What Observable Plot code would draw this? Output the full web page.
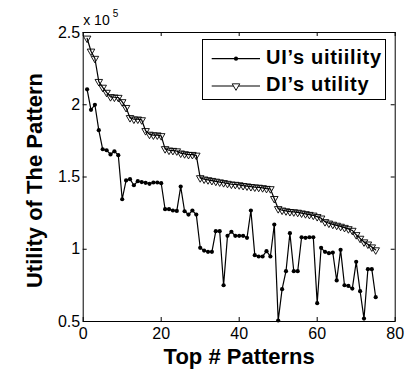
<!DOCTYPE html>
<html>
<head>
<meta charset="utf-8">
<script src="https://cdn.jsdelivr.net/npm/d3@7"></script>
<script src="https://cdn.jsdelivr.net/npm/@observablehq/plot@0.6"></script>
<style>
  html, body { margin: 0; padding: 0; background: #ffffff; }
  #chart { width: 414px; height: 371px; }
  svg { display: block; }
</style>
</head>
<body>
<div id="chart"></div>
<script>
// Values in units of 10^5
const uiUtility = [
  2.107, 1.965, 2.0, 1.824, 1.692, 1.685, 1.656, 1.678, 1.651, 1.346,
  1.476, 1.485, 1.443, 1.471, 1.465, 1.46, 1.453, 1.462, 1.462, 1.457,
  1.277, 1.277, 1.268, 1.265, 1.434, 1.263, 1.24, 1.268, 1.24, 1.01,
  0.991, 0.982, 0.982, 1.125, 1.125, 0.751, 1.093, 1.121, 1.093, 1.093,
  1.093, 1.079, 1.268, 0.959, 0.95, 0.95, 0.987, 0.95, 1.171, 0.507,
  0.724, 0.848, 1.111, 0.848, 0.848, 1.083, 1.079, 1.083, 1.083, 0.627,
  1.01, 0.982, 0.973, 0.977, 0.784, 0.996, 0.751, 0.746, 0.728, 0.913,
  0.71, 0.52, 0.862, 0.862, 0.668
];
const diUtility = [
  2.46, 2.37, 2.32, 2.16, 2.12, 2.085, 2.055, 2.052, 2.05, 2.02,
  1.98, 1.91, 1.90, 1.90, 1.895, 1.82, 1.795, 1.79, 1.79, 1.785,
  1.695, 1.685, 1.683, 1.68, 1.665, 1.66, 1.655, 1.655, 1.65, 1.494,
  1.485, 1.48, 1.475, 1.47, 1.465, 1.46, 1.455, 1.45, 1.448, 1.445,
  1.44, 1.437, 1.433, 1.43, 1.428, 1.425, 1.42, 1.418, 1.35, 1.28,
  1.27, 1.265, 1.26, 1.258, 1.255, 1.25, 1.245, 1.24, 1.235, 1.225,
  1.215, 1.19, 1.18, 1.172, 1.165, 1.158, 1.15, 1.141, 1.13, 1.10,
  1.075, 1.05, 1.035, 1.015, 0.995
];
const xTicks = [0, 20, 40, 60, 80];
const yTicks = [0.5, 1, 1.5, 2, 2.5];
const yTickLabels = ["0.5", "1", "1.5", "2", "2.5"];
const seriesNames = ["UI\u2019s uitiility", "DI\u2019s utility"];
const xTitle = "Top # Patterns";
const yTitle = "Utility of The Pattern";
const exponentBase = "x 10";
const exponentPower = "5";

const uiRows = uiUtility.map((v, i) => ({rank: i + 1, value: v}));
const diRows = diUtility.map((v, i) => ({rank: i + 1, value: v}));

const W = 414, H = 371;
const mL = 82.7, mR = 19.3, mT = 32, mB = 50;
const plotW = W - mL - mR, plotH = H - mT - mB;
const tickLen = 4;
const font = "'Liberation Sans', Arial, Helvetica, sans-serif";

const chart = Plot.plot({
  width: W,
  height: H,
  marginLeft: mL,
  marginRight: mR,
  marginTop: mT,
  marginBottom: mB,
  style: {fontFamily: font, background: "#ffffff", color: "#000000", overflow: "visible"},
  x: {domain: [0, 80]},
  y: {domain: [0.5, 2.5]},
  marks: [
    Plot.frame({stroke: "#000000", strokeWidth: 1}),
    // inward ticks on all four sides
    Plot.tickX(xTicks, {x: d => d, insetTop: plotH - tickLen, stroke: "#000000"}),
    Plot.tickX(xTicks, {x: d => d, insetBottom: plotH - tickLen, stroke: "#000000"}),
    Plot.tickY(yTicks, {y: d => d, insetRight: plotW - tickLen, stroke: "#000000"}),
    Plot.tickY(yTicks, {y: d => d, insetLeft: plotW - tickLen, stroke: "#000000"}),
    Plot.axisX({ticks: xTicks, tickSize: 0, tickPadding: 6, fontSize: 16, label: null, tickFormat: d => String(d)}),
    Plot.axisY({ticks: yTicks, tickSize: 0, tickPadding: 3, fontSize: 16, label: null,
      tickFormat: d => yTickLabels[yTicks.indexOf(d)]}),
    Plot.text([xTitle], {text: d => d, frameAnchor: "bottom", textAnchor: "middle", lineAnchor: "middle", dy: 35, fontSize: 22, fontWeight: "bold", fill: "#000000"}),
    Plot.text([yTitle], {text: d => d, frameAnchor: "left", textAnchor: "middle", lineAnchor: "middle", rotate: -90, dx: -48, dy: 3.5, fontSize: 22, fontWeight: "bold", fill: "#000000"}),
    Plot.text([exponentBase], {text: d => d, frameAnchor: "top-left", textAnchor: "start", lineAnchor: "middle", dx: 0, dy: -11.5, fontSize: 14, fill: "#000000"}),
    Plot.text([exponentPower], {text: d => d, frameAnchor: "top-left", textAnchor: "start", lineAnchor: "middle", dx: 29.5, dy: -19, fontSize: 10, fill: "#000000"}),
    Plot.line(diRows, {x: "rank", y: "value", stroke: "#000000", strokeWidth: 1.2}),
    Plot.dot(diRows, {x: "rank", y: "value", symbol: "triangle", rotate: 180, r: 2.8, stroke: "#000000", fill: "none", strokeWidth: 0.9}),
    Plot.line(uiRows, {x: "rank", y: "value", stroke: "#000000", strokeWidth: 1.2}),
    Plot.dot(uiRows, {x: "rank", y: "value", r: 2.1, fill: "#000000", stroke: "none"})
  ]
});

// Legend drawn inside the plot's svg
const svg = d3.select(chart);
const lg = svg.append("g").attr("font-family", font).attr("text-anchor", "start");
lg.append("rect").attr("x", 202.5).attr("y", 39.5).attr("width", 183).attr("height", 60)
  .attr("fill", "#ffffff").attr("stroke", "#000000").attr("stroke-width", 1);
const rows = [{name: seriesNames[0], cy: 58.7, base: 63.5, kind: "dot"},
              {name: seriesNames[1], cy: 86, base: 91, kind: "tri"}];
rows.forEach(r => {
  lg.append("line").attr("x1", 211.7).attr("x2", 260).attr("y1", r.cy).attr("y2", r.cy)
    .attr("stroke", "#000000").attr("stroke-width", 1.2);
  if (r.kind === "dot") {
    lg.append("circle").attr("cx", 236).attr("cy", r.cy).attr("r", 2.1).attr("fill", "#000000");
  } else {
    lg.append("path").attr("d", d3.symbol(d3.symbolTriangle, Math.PI * 2.8 * 2.8)())
      .attr("transform", `translate(236,${r.cy}) rotate(180)`)
      .attr("fill", "#ffffff").attr("stroke", "#000000").attr("stroke-width", 0.9);
  }
  lg.append("text").attr("x", 266).attr("y", r.base).text(r.name)
    .attr("text-anchor", "start")
    .attr("font-size", 20).attr("font-weight", "bold").attr("letter-spacing", "0.7px").attr("fill", "#000000");
});

document.getElementById("chart").appendChild(chart);
</script>
</body>
</html>
